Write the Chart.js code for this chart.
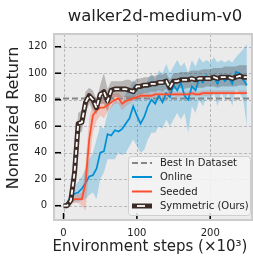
<!DOCTYPE html>
<html><head><meta charset="utf-8">
<script src="https://cdn.jsdelivr.net/npm/chart.js@4/dist/chart.umd.min.js"></script>
<style>html,body{margin:0;padding:0;background:#fff}#wrap{width:253px;height:256px}</style>
</head><body><div id="wrap"><canvas id="c" width="253" height="256"></canvas></div>
<script>
const steps = [0,5,10,15,20,25,30,35,40,45,50,55,60,65,70,75,80,85,90,95,100,105,110,115,120,125,130,135,140,145,150,155,160,165,170,175,180,185,190,195,200,205,210,215,220,225,230,235,240,245,250];
const symMean = [0,0,4,25,62,63,78,83,80,74,84,86,79,87,88,88,88,88,87,86,90,90,91,91,92,92,93,93,94,89,94,94,95,95,95,96,95,96,96,96,96,97,96,97,97,97,96,97,98,97,97];
const symLow  = [0,0,1,15,54,56,70,77,72,69,77,77,71,80,82,82,82,82,80,80,84,84,85,85,86,86,87,86,88,84,88,88,89,88,89,89,89,89,89,90,90,90,89,90,90,90,90,90,91,91,90];
const symHigh = [0,1,8,35,70,72,86,89,87,80,91,100,88,94,94,94,94,95,95,93,96,96,97,97,98,98,99,99,100,95,100,100,101,101,101,102,102,102,103,103,103,104,104,104,105,105,105,105,106,106,106];
const seedMean = [0,1,3,5,5,5,17,50,68,72,74,74,76,78,80,81,77,79,80,81,82,83,83,83,83,84,84,84,84,84,84,84,84,84,84,85,84,84,85,85,85,85,85,85,85,85,85,85,85,85,85];
const seedLow  = [0,0,1,2,2,0,-4,30,55,64,68,66,71,74,77,77,72,75,77,79,80,81,81,82,81,82,82,82,82,82,83,82,83,83,83,83,83,83,83,83,83,84,84,84,84,84,84,84,84,84,84];
const seedHigh = [0,2,5,8,9,10,32,66,78,80,80,82,84,84,85,85,82,83,83,83,84,85,85,85,85,86,86,86,86,86,86,86,86,86,86,87,86,86,87,87,87,87,87,87,87,87,87,87,87,87,87];
const onMean = [0,2,7,9,10,13,17,22,23,28,40,41,54,53,57,56,58,62,66,75,68,62,67,75,80,77,83,78,85,82,91,87,93,83,80,90,87,96,93,98,95,97,92,98,94,97,92,101,100,95,91];
const onLow  = [0,0,2,3,3,4,5,8,10,5,20,25,35,35,35,40,38,40,45,50,45,40,42,50,55,55,60,58,65,60,65,70,65,70,55,75,70,80,75,82,80,85,75,85,80,85,75,88,85,80,60];
const onHigh = [0,4,12,15,18,22,28,35,40,50,60,58,70,75,80,78,78,85,88,95,92,88,90,95,100,95,102,100,107,100,105,110,105,108,100,110,105,112,108,110,108,112,108,110,108,110,108,112,115,118,122];
const bestInDataset = 81;
const yTicks = [0,20,40,60,80,100,120];
const xTicks = [0,100,200];
const xMin = -13, xMax = 257, yMin = -10.8, yMax = 129.6;
const titleText = 'walker2d-medium-v0';
const yLabel = 'Nomalized Return';
const xLabel = 'Environment steps (\u00d710\u00b3)';
const legendLabels = ['Best In Dataset','Online','Seeded','Symmetric (Ours)'];

const BLUE = '#008fd5', RED = '#fc4f30', DARK = '#3b2a25', GRAY = '#858585';
const FONT = "'DejaVu Sans', sans-serif";
const pts = arr => arr.map((v,i)=>({x:steps[i], y:v}));

const ds = [];
function add(o){ o.order = 100 - ds.length; ds.push(Object.assign({pointRadius:0, tension:0, borderWidth:0, fill:false}, o)); }
add({data:pts(onLow), borderColor:'rgba(0,0,0,0)'});
add({data:pts(onHigh), borderColor:'rgba(0,0,0,0)', fill:'-1', backgroundColor:'rgba(0,143,213,0.26)'});
add({data:pts(seedLow), borderColor:'rgba(0,0,0,0)'});
add({data:pts(seedHigh), borderColor:'rgba(0,0,0,0)', fill:'-1', backgroundColor:'rgba(252,79,48,0.25)'});
add({data:pts(symLow), borderColor:'rgba(0,0,0,0)'});
add({data:pts(symHigh), borderColor:'rgba(0,0,0,0)', fill:'-1', backgroundColor:'rgba(70,60,55,0.3)'});
add({data:[{x:xMin,y:bestInDataset},{x:xMax,y:bestInDataset}], borderColor:GRAY, borderWidth:2, borderDash:[6,3]});
add({data:pts(onMean), borderColor:BLUE, borderWidth:1.7});
add({data:pts(seedMean), borderColor:RED, borderWidth:1.8});
add({data:pts(symMean), borderColor:DARK, borderWidth:5, borderJoinStyle:'round'});
add({data:pts(symMean), borderColor:'#ffffff', borderWidth:1.8, borderDash:[5,3]});

const deco = {
  id:'deco',
  beforeDatasetsDraw(chart){
    const {ctx, chartArea:a, scales:{x,y}} = chart;
    ctx.save();
    ctx.fillStyle = '#ebebeb';
    ctx.fillRect(a.left, a.top, a.right-a.left, a.bottom-a.top);
    ctx.strokeStyle = '#b8b8b8'; ctx.lineWidth = 1; ctx.setLineDash([3,2]);
    yTicks.forEach(v=>{const p=Math.round(y.getPixelForValue(v))+0.5; ctx.beginPath(); ctx.moveTo(a.left,p); ctx.lineTo(a.right,p); ctx.stroke();});
    xTicks.forEach(v=>{const p=Math.round(x.getPixelForValue(v))+0.5; ctx.beginPath(); ctx.moveTo(p,a.top); ctx.lineTo(p,a.bottom); ctx.stroke();});
    ctx.restore();
  },
  afterDatasetsDraw(chart){
    const {ctx, chartArea:a, scales:{x,y}} = chart;
    ctx.save();
    ctx.strokeStyle = '#cccccc'; ctx.lineWidth = 2; ctx.setLineDash([]);
    ctx.strokeRect(a.left, a.top, a.right-a.left, a.bottom-a.top);
    ctx.strokeStyle = '#000'; ctx.lineWidth = 1.5;
    yTicks.forEach(v=>{const p=y.getPixelForValue(v); ctx.beginPath(); ctx.moveTo(a.left+1,p); ctx.lineTo(a.left+7,p); ctx.stroke();});
    xTicks.forEach(v=>{const p=x.getPixelForValue(v); ctx.beginPath(); ctx.moveTo(p,a.bottom-1); ctx.lineTo(p,a.bottom-7); ctx.stroke();});
    const lx = 128, ly = 156, lw = 122, lh = 59, r = 3;
    ctx.fillStyle = 'rgba(245,245,245,0.85)'; ctx.strokeStyle = '#cfcfcf'; ctx.lineWidth = 1;
    ctx.beginPath(); ctx.roundRect(lx+0.5, ly+0.5, lw, lh, r); ctx.fill(); ctx.stroke();
    ctx.font = '10px ' + FONT; ctx.textBaseline = 'middle'; ctx.textAlign = 'left'; ctx.fillStyle = '#222';
    const rowY = [163, 177, 191.5, 206];
    const sx0 = 132, sx1 = 152;
    legendLabels.forEach((t,i)=>{
      const yy = rowY[i];
      ctx.setLineDash([]);
      if (i===0){ ctx.strokeStyle = GRAY; ctx.lineWidth = 2; ctx.setLineDash([6,3]); ctx.beginPath(); ctx.moveTo(sx0,yy); ctx.lineTo(sx1,yy); ctx.stroke(); }
      if (i===1){ ctx.strokeStyle = BLUE; ctx.lineWidth = 2; ctx.beginPath(); ctx.moveTo(sx0,yy); ctx.lineTo(sx1,yy); ctx.stroke(); }
      if (i===2){ ctx.strokeStyle = RED; ctx.lineWidth = 2; ctx.beginPath(); ctx.moveTo(sx0,yy); ctx.lineTo(sx1,yy); ctx.stroke(); }
      if (i===3){ ctx.strokeStyle = DARK; ctx.lineWidth = 5; ctx.beginPath(); ctx.moveTo(sx0,yy); ctx.lineTo(sx1,yy); ctx.stroke();
                  ctx.strokeStyle = '#fff'; ctx.lineWidth = 1.8; ctx.beginPath(); ctx.moveTo(sx0+5,yy); ctx.lineTo(sx0+13,yy); ctx.stroke(); }
      ctx.setLineDash([]);
      ctx.fillText(t, 160, yy+0.5);
    });
    ctx.restore();
  },
  afterDraw(chart){
    const {ctx, chartArea:a} = chart;
    ctx.save();
    ctx.fillStyle = '#222'; ctx.textBaseline = 'middle'; ctx.textAlign = 'center';
    ctx.font = '16.5px ' + FONT;
    ctx.fillText(titleText, (a.left+a.right)/2 + 2, 17);
    ctx.font = '15px ' + FONT;
    ctx.fillText(xLabel, 150, 247);
    ctx.font = '16px ' + FONT;
    ctx.translate(14, 118); ctx.rotate(-Math.PI/2);
    ctx.fillText(yLabel, 0, 0);
    ctx.restore();
  }
};

new Chart(document.getElementById('c'), {
  type:'line',
  data:{datasets:ds},
  options:{
    responsive:false, animation:false, devicePixelRatio:1,
    layout:{padding:{left:0, top:34, right:1, bottom:0}},
    plugins:{legend:{display:false}, title:{display:false}, tooltip:{enabled:false}},
    scales:{
      x:{type:'linear', min:xMin, max:xMax,
         afterBuildTicks: s=>{ s.ticks = xTicks.map(v=>({value:v})); },
         afterFit: s=>{ s.height = 36; },
         grid:{display:false, drawTicks:false}, border:{display:false},
         ticks:{padding:7, color:'#222', font:{family:FONT, size:10}, maxRotation:0}},
      y:{type:'linear', min:yMin, max:yMax,
         afterBuildTicks: s=>{ s.ticks = yTicks.map(v=>({value:v})); },
         afterFit: s=>{ s.width = 54; },
         grid:{display:false, drawTicks:false}, border:{display:false},
         ticks:{padding:7, color:'#222', font:{family:FONT, size:10}}}
    }
  },
  plugins:[deco]
});
</script></body></html>
